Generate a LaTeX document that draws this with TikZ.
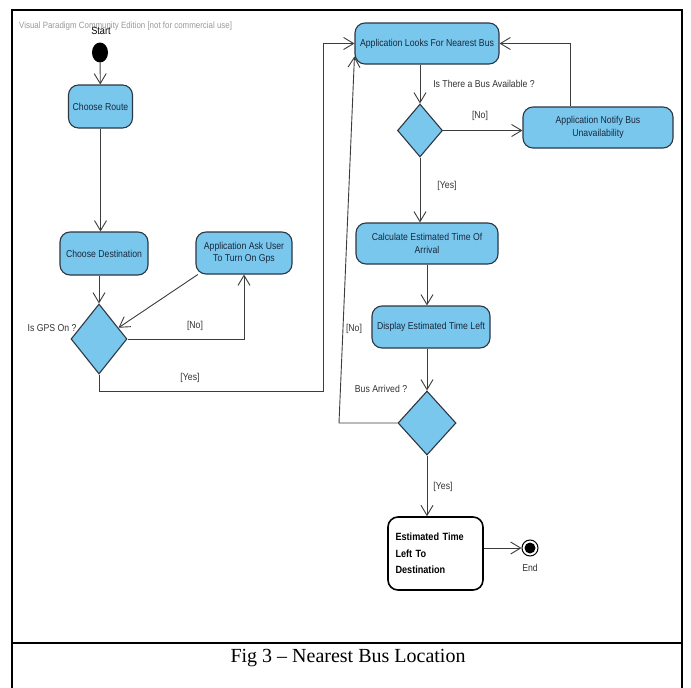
\documentclass[tikz,border=0pt]{standalone}
\usepackage{fontspec}
\setmainfont{Liberation Serif}
\newfontfamily\vpfont[FakeStretch=0.87]{Liberation Sans}
\usetikzlibrary{shapes.geometric,arrows.meta,calc}
\definecolor{vpfill}{RGB}{122,199,238}
\definecolor{vpline}{RGB}{45,55,65}
\definecolor{vptext}{RGB}{25,40,60}
\definecolor{conn}{RGB}{60,60,60}
\begin{document}
\begin{tikzpicture}[x=1pt,y=-1pt,
  act/.style={draw=vpline, line width=1.1pt, fill=vpfill, rounded corners=10pt,
    font=\vpfont\fontsize{10}{12.5}\selectfont, text=vptext, align=center, inner sep=0pt},
  dec/.style={diamond, draw=vpline, line width=1.1pt, fill=vpfill, inner sep=0pt},
  arr/.style={draw=conn, line width=0.9pt, -{Straight Barb[length=10pt,width=12pt]}},
  ln/.style={draw=conn, line width=0.9pt},
  lbl/.style={font=\vpfont\fontsize{10}{12}\selectfont, text=black!80, inner sep=0pt}]
\useasboundingbox (0,0) rectangle (691,688);
\fill[white] (0,0) rectangle (691,688);
% frame
\draw[line width=2.5pt] (12,692) -- (12,10) -- (682,10) -- (682,692);
\draw[line width=2.5pt] (12,643) -- (682,643);
\node[font=\fontsize{20}{22}\selectfont, inner sep=0pt] (cap) at (348,658) {Fig 3 – Nearest Bus Location};
% watermark
\node[anchor=west, font=\vpfont\fontsize{9.1}{10}\selectfont, text=black!40, inner sep=0pt] (wm) at (19,26) {Visual Paradigm Community Edition [not for commercial use]};
% start
\node[ellipse, fill=black, minimum width=16pt, minimum height=20pt, inner sep=0pt] (start) at (100,52.5) {};
\node[lbl, text=black, font=\vpfont\fontsize{10.5}{12}\selectfont] (startl) at (101,31) {Start};
% left column
\node[act, minimum width=64pt, minimum height=43pt] (route) at (100.5,106.5) {Choose Route};
\node[act, minimum width=88pt, minimum height=43pt] (dest) at (104,253.5) {Choose Destination};
\node[act, minimum width=96pt, minimum height=42pt] (ask) at (244,253) {Application Ask User\\To Turn On Gps};
\node[dec, minimum width=56pt, minimum height=70pt] (gps) at (99,339) {};
\node[lbl] (gpsl) at (52,328) {Is GPS On ?};
% right column
\node[act, minimum width=144pt, minimum height=41pt] (look) at (427,43.5) {Application Looks For Nearest Bus};
\node[dec, minimum width=45pt, minimum height=53pt] (avail) at (420,130.5) {};
\node[lbl] (availl) at (484,84) {Is There a Bus Available ?};
\node[act, minimum width=150pt, minimum height=41pt] (notify) at (598,127.5) {Application Notify Bus\\Unavailability};
\node[act, minimum width=142pt, minimum height=41pt] (calc) at (427,243.5) {Calculate Estimated Time Of\\Arrival};
\node[act, minimum width=118pt, minimum height=42pt] (disp) at (431,327) {Display Estimated Time Left};
\node[dec, minimum width=58pt, minimum height=64pt] (arrived) at (427,423) {};
\node[lbl] (arrivedl) at (381,389) {Bus Arrived ?};
\node[draw=black, line width=1.6pt, fill=white, rounded corners=10pt, minimum width=95pt, minimum height=73pt,
  text width=80pt, inner xsep=7.5pt, inner ysep=0pt, align=left, text=black,
  font=\vpfont\bfseries\fontsize{10.5}{16.7}\selectfont] (final) at (435.5,553.5) {Estimated Time\\Left To\\Destination\\[-6pt]};
% end
\node[circle, draw=black, line width=1pt, fill=white, minimum size=16pt, inner sep=0pt] (endc) at (530,548) {};
\node[circle, fill=black, minimum size=11pt, inner sep=0pt] (endd) at (530,548) {};
\node[lbl] (endl) at (530,568) {End};
% coordinates
\coordinate (y1) at (323,391);
\coordinate (n1) at (570,0);
\coordinate (k1) at (339,423);
% connectors left
\draw[arr] (start) -- (route);
\draw[arr] (route.south) -- (route.south |- dest.north);
\draw[arr] (dest.south -| gps.north) -- (gps.north);
\draw[arr] (ask.205) -- (gps.30);
\draw[arr] (gps.east) -| (ask.south);
\node[lbl] (nol1) at (195,326) {[No]};
\draw[arr] (gps.south) |- (y1) |- (look.west);
\node[lbl] (yesl1) at (190,378) {[Yes]};
% connectors right
\draw[arr] (look.south -| avail.north) -- (avail.north);
\draw[arr] (avail.east) -- (avail.east -| notify.west);
\node[lbl] (nol2) at (480,116) {[No]};
\draw[arr] (notify.north -| n1) |- (look.east);
\draw[arr] (avail.south) -- (avail.south |- calc.north);
\node[lbl] (yesl2) at (447,186) {[Yes]};
\draw[arr] (calc.south) -- (calc.south |- disp.north);
\draw[arr] (calc.south |- disp.south) -- (arrived.north);
\draw[arr] (arrived.west) -- (k1) -- ($(look.west)+(0,13)$);
\node[lbl] (nol3) at (354,329) {[No]};
\draw[arr] (arrived.south) -- (arrived.south |- final.north);
\node[lbl] (yesl3) at (443,487) {[Yes]};
\draw[arr] (final.east |- endc.west) -- (endc.west);
\end{tikzpicture}
\end{document}
